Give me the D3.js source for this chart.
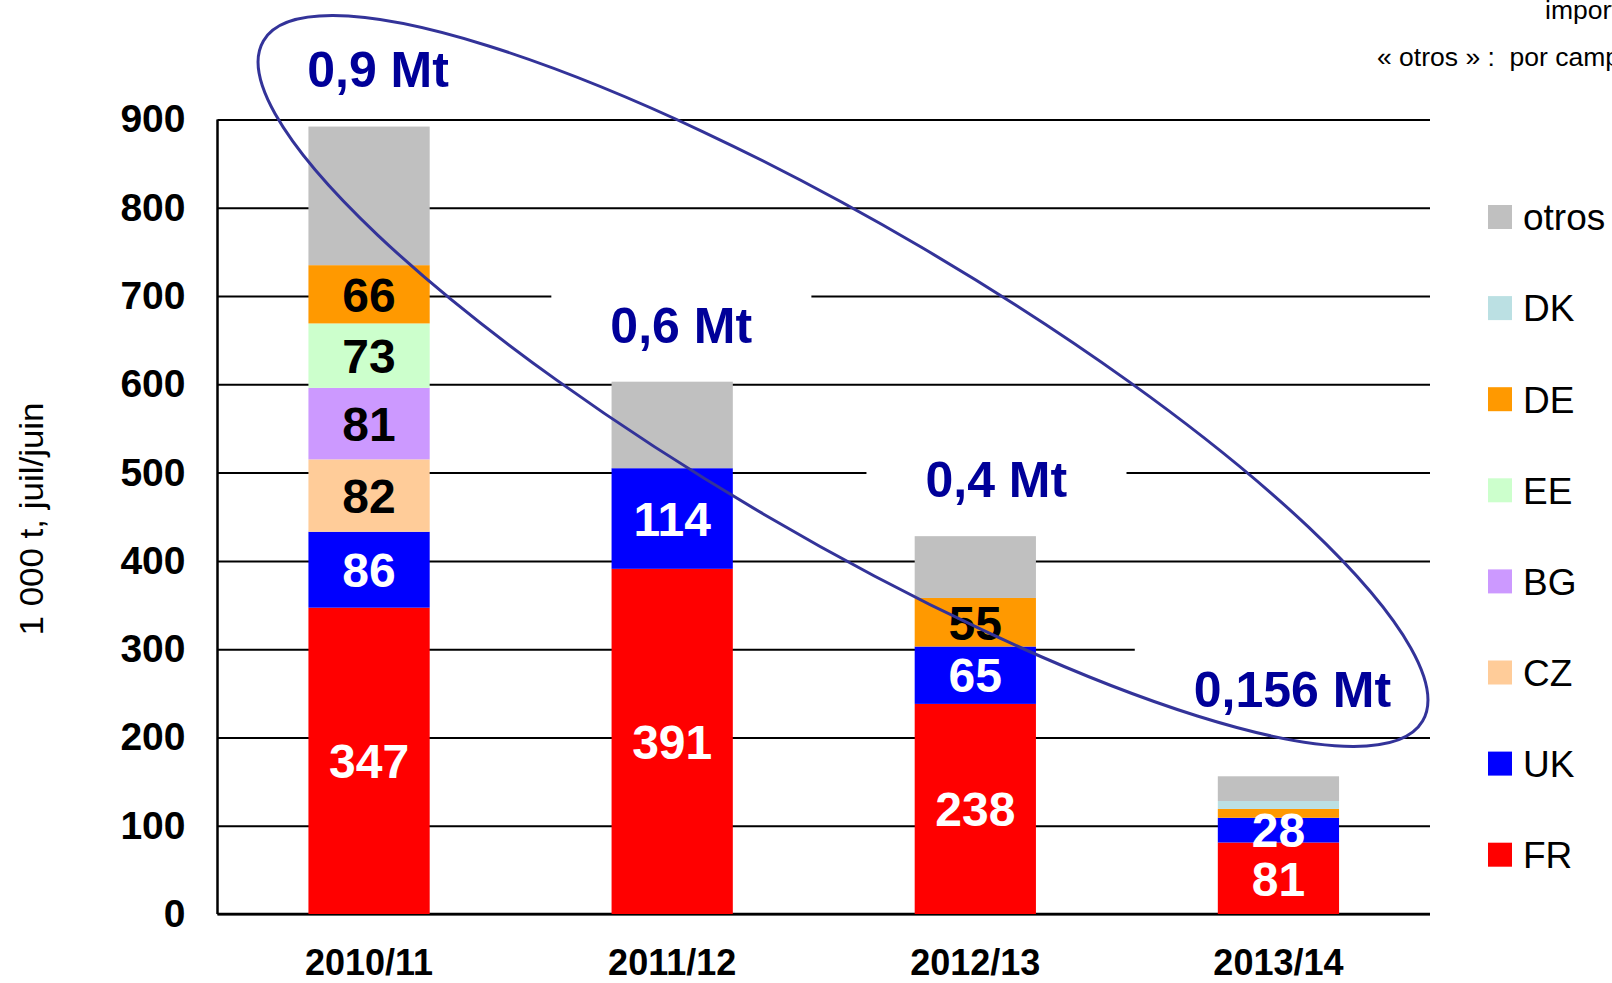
<!DOCTYPE html>
<html>
<head>
<meta charset="utf-8">
<script src="https://cdn.jsdelivr.net/npm/d3@7/dist/d3.min.js"></script>
<style>
    body {
        padding: 0;
        margin: 0;
        background: #fff;
    }
    text {
        font-family: Arial, "Liberation Sans", sans-serif;
    }
</style>
</head>
<body>
<script>
// campaigns and import volumes (1 000 t)
const seasons = ['2010/11', '2011/12', '2012/13', '2013/14'];
const FR = [347, 391, 238, 81];
const UK = [86, 114, 65, 28];
const CZ = [82, 0, 0, 0];
const BG = [81, 0, 0, 0];
const EE = [73, 0, 0, 0];
const DE = [66, 0, 55, 10];
const DK = [0, 0, 0, 9];
const otros = [157, 98, 70, 28];

const seriesNames = ['FR', 'UK', 'CZ', 'BG', 'EE', 'DE', 'DK', 'otros'];
const seriesValues = [FR, UK, CZ, BG, EE, DE, DK, otros];
const labelled = ['FR', 'UK', 'CZ', 'BG', 'EE', 'DE'];
const totalLabels = ['0,9 Mt', '0,6 Mt', '0,4 Mt', '0,156 Mt'];
const yTicks = [0, 100, 200, 300, 400, 500, 600, 700, 800, 900];

const colors = {
    FR: '#ff0000', UK: '#0000ff', CZ: '#ffcc99', BG: '#cc99ff',
    EE: '#ccffcc', DE: '#ff9900', DK: '#bbe0e3', otros: '#c0c0c0'
};
const darkLabel = new Set(['CZ', 'BG', 'EE', 'DE']);

const width = 1612;
const height = 983;
const plot = { left: 217.5, right: 1430, top: 119.5, bottom: 914 };

const rows = seasons.map((s, i) => {
    const r = { season: s };
    seriesNames.forEach((n, k) => r[n] = seriesValues[k][i]);
    return r;
});

const svg = d3.create('svg')
    .attr('viewBox', [0, 0, width, height])
    .attr('width', width)
    .attr('height', height);
document.body.appendChild(svg.node());

svg.append('rect').attr('width', width).attr('height', height).attr('fill', '#fff');

const x = d3.scaleBand()
    .domain(seasons)
    .range([plot.left, plot.right])
    .paddingInner(0.6)
    .paddingOuter(0.3);

const y = d3.scaleLinear()
    .domain([0, 900])
    .range([plot.bottom, plot.top]);

// grid + tick labels
const yAxis = svg.append('g')
    .attr('transform', `translate(${plot.left},0)`)
    .call(d3.axisLeft(y)
        .tickValues(yTicks)
        .tickSizeInner(-(plot.right - plot.left))
        .tickSizeOuter(0)
        .tickPadding(32));
yAxis.select('.domain').remove();
yAxis.selectAll('.tick line').attr('stroke', '#000').attr('stroke-width', 2);
yAxis.selectAll('.tick text')
    .attr('fill', '#000')
    .style('font-size', '39px')
    .style('font-weight', 'bold')
    .style('font-family', 'Arial, "Liberation Sans", sans-serif');

// white boxes behind the total labels hide the grid, like in the original
const stack = d3.stack().keys(seriesNames)(rows);
const totals = rows.map(r => d3.sum(seriesNames, n => r[n]));
const labelLift = [45, 44, 44, 78];
const labelShift = [9, 9, 21, 14];
const boxes = totals.map((t, i) => ({ i, t }));

const annot = svg.append('g');
annot.selectAll('text')
    .data(boxes)
    .join('text')
        .attr('x', d => x(seasons[d.i]) + x.bandwidth() / 2 + labelShift[d.i])
        .attr('y', d => y(d.t + labelLift[d.i]))
        .attr('text-anchor', 'middle')
        .attr('fill', '#000099')
        .style('font-size', '50px')
        .style('font-weight', 'bold')
        .text(d => totalLabels[d.i])
        .each(function(d) {
            d.box = this.getBBox();
        });
annot.selectAll('rect')
    .data(boxes)
    .join('rect')
        .attr('x', d => d.box.x - 59)
        .attr('y', d => d.box.y - 28)
        .attr('width', d => d.box.width + 118)
        .attr('height', d => d.box.height + 20)
        .attr('fill', '#fff');
annot.selectAll('text').raise();

// axis lines
svg.append('line')
    .attr('x1', plot.left).attr('x2', plot.left)
    .attr('y1', plot.top).attr('y2', plot.bottom)
    .attr('stroke', '#000').attr('stroke-width', 2.5);
svg.append('line')
    .attr('x1', plot.left).attr('x2', plot.right)
    .attr('y1', plot.bottom).attr('y2', plot.bottom)
    .attr('stroke', '#000').attr('stroke-width', 2.5);

// stacked bars
const layers = svg.append('g')
    .selectAll('g')
    .data(stack)
    .join('g')
        .attr('fill', d => colors[d.key]);
layers.selectAll('rect')
    .data(d => d.filter(p => p[1] > p[0]))
    .join('rect')
        .attr('x', d => x(d.data.season))
        .attr('y', d => y(d[1]))
        .attr('width', x.bandwidth())
        .attr('height', d => y(d[0]) - y(d[1]));

// segment values (thin slices stay unlabelled)
stack.filter(s => labelled.includes(s.key)).forEach(s => {
    svg.append('g')
        .selectAll('text')
        .data(s.filter(p => p[1] - p[0] >= 20))
        .join('text')
            .attr('x', d => x(d.data.season) + x.bandwidth() / 2)
            .attr('y', d => y((d[0] + d[1]) / 2))
            .attr('dy', '0.36em')
            .attr('text-anchor', 'middle')
            .attr('fill', darkLabel.has(s.key) ? '#000' : '#fff')
            .style('font-size', '48px')
            .style('font-weight', 'bold')
            .text(d => d[1] - d[0]);
});

// category labels
svg.append('g')
    .selectAll('text')
    .data(seasons)
    .join('text')
        .attr('x', d => x(d) + x.bandwidth() / 2)
        .attr('y', 975)
        .attr('text-anchor', 'middle')
        .style('font-size', '36px')
        .style('font-weight', 'bold')
        .text(d => d);

// ellipse around the totals
svg.append('ellipse')
    .attr('cx', 843)
    .attr('cy', 381)
    .attr('rx', 672)
    .attr('ry', 155)
    .attr('transform', 'rotate(30.4 843 381)')
    .attr('fill', 'none')
    .attr('stroke', '#333399')
    .attr('stroke-width', 3);

// y title
svg.append('text')
    .attr('transform', 'translate(43,519) rotate(-90)')
    .attr('text-anchor', 'middle')
    .attr('textLength', 233)
    .attr('lengthAdjust', 'spacingAndGlyphs')
    .style('font-size', '33px')
    .text('1 000 t, juil/juin');

// legend
const legendOrder = ['otros', 'DK', 'DE', 'EE', 'BG', 'CZ', 'UK', 'FR'];
const legend = svg.append('g')
    .selectAll('g')
    .data(legendOrder)
    .join('g')
        .attr('transform', (d, i) => `translate(1488,${217 + i * 91.1})`);
legend.append('rect')
    .attr('y', -12)
    .attr('width', 24)
    .attr('height', 24)
    .attr('fill', d => colors[d]);
legend.append('text')
    .attr('x', 35)
    .attr('dy', '0.36em')
    .style('font-size', '37px')
    .text(d => d);

// notes cut at the right edge
svg.append('text')
    .attr('x', 1545).attr('y', 19)
    .style('font-size', '26.5px')
    .text('importaciones');
svg.append('text')
    .attr('x', 1377).attr('y', 66)
    .style('font-size', '26.5px')
    .style('white-space', 'pre')
    .text('« otros » :  por campaña');
</script>
</body>
</html>
